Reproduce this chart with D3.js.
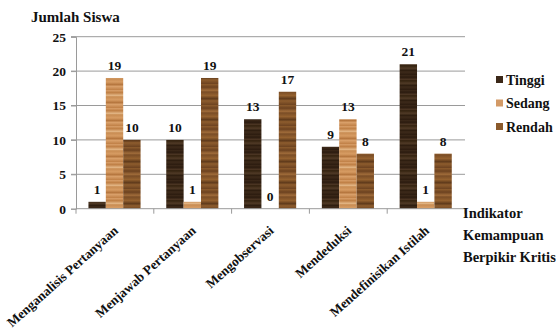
<!DOCTYPE html>
<html><head><meta charset="utf-8">
<script src="https://cdn.jsdelivr.net/npm/d3@7"></script>
<style>body{margin:0;background:#fff}svg{display:block}text{font-family:"Liberation Serif","Times New Roman",serif !important;font-weight:bold;fill:#111}</style>
</head><body>
<script>
const categories = ["Menganalisis Pertanyaan","Menjawab Pertanyaan","Mengobservasi","Mendeduksi","Mendefinisikan Istilah"];
const seriesNames = ["Tinggi","Sedang","Rendah"];
const tinggi = [1,10,13,9,21];
const sedang = [19,1,0,13,1];
const rendah = [10,19,17,8,8];
const yTicks = [0,5,10,15,20,25];
const yTitle = "Jumlah Siswa";
const xTitle = ["Indikator","Kemampuan","Berpikir Kritis"];
const values = {Tinggi: tinggi, Sedang: sedang, Rendah: rendah};

const W = 556, H = 333;
const L = 76, R = 465, T = 36.7, B = 208.7;
const FONT = "Liberation Serif";
const svg = d3.select("body").append("svg").attr("width", W).attr("height", H);

const woods = {
  Tinggi: ["#3d2a1a","#2b1b0f","#4a3422","#33220f","#503a26","#2e1e10"],
  Sedang: ["#d9a06a","#bf7f45","#e2b584","#c88c52","#d79c63","#b5763e"],
  Rendah: ["#8e5d2e","#6c4220","#a06c3a","#7a4d26","#94612f","#5f3a1b"]
};
const defs = svg.append("defs");
seriesNames.forEach((s, i) => {
  const g = defs.append("linearGradient").attr("id", "wood" + i)
    .attr("gradientUnits", "userSpaceOnUse").attr("x1", 0).attr("x2", 0)
    .attr("y1", 0).attr("y2", 15 + i * 3).attr("spreadMethod", "repeat");
  const cols = woods[s];
  const stops = [0,0.15,0.3,0.38,0.55,0.7,0.8,1];
  stops.forEach((o, k) => g.append("stop").attr("offset", o).attr("stop-color", cols[k % cols.length]));
});
const swatch = {Tinggi:"#3b2818", Sedang:"#d39a66", Rendah:"#8b5a2b"};

const y = d3.scaleLinear().domain([0, 25]).range([B, T]);
const x0 = d3.scaleBand().domain(categories).range([L, R]).padding(0);
const bw = x0.bandwidth();
const x1 = d3.scaleBand().domain(seriesNames).range([bw * 0.16, bw * 0.83]).padding(0);

// gridlines
svg.append("g").selectAll("line").data(yTicks.filter(t => t > 0)).join("line")
  .attr("x1", L - 5).attr("x2", R).attr("y1", d => y(d)).attr("y2", d => y(d))
  .attr("stroke", "#9a9a9a").attr("stroke-width", 1);

// y axis
const ya = svg.append("g").attr("transform", `translate(${L},0)`)
  .call(d3.axisLeft(y).tickValues(yTicks).tickSize(5).tickPadding(5));
ya.attr("font-family", FONT).attr("font-size", 13.5);
ya.select(".domain").attr("stroke", "#9a9a9a");
ya.selectAll(".tick line").attr("stroke", "#9a9a9a");
ya.selectAll("text").attr("font-weight", "bold").attr("fill", "#111");

// bars
const groups = svg.append("g").selectAll("g").data(categories).join("g")
  .attr("transform", d => `translate(${x0(d)},0)`);
groups.selectAll("rect").data((c, ci) => seriesNames.map((s, si) => ({s, si, v: values[s][ci]}))).join("rect")
  .attr("x", d => x1(d.s)).attr("width", x1.bandwidth())
  .attr("y", d => y(d.v)).attr("height", d => B - y(d.v))
  .attr("fill", d => `url(#wood${d.si})`);
groups.selectAll("text.val").data((c, ci) => seriesNames.map((s, si) => ({s, si, v: values[s][ci]}))).join("text")
  .attr("class", "val").attr("x", d => x1(d.s) + x1.bandwidth() / 2)
  .attr("y", d => y(d.v) - 8).attr("text-anchor", "middle").attr("font-size", 13.5)
  .text(d => d.v);

// x axis
svg.append("line").attr("x1", L).attr("x2", R).attr("y1", B).attr("y2", B).attr("stroke", "#9a9a9a");
svg.append("g").selectAll("line").data(d3.range(categories.length + 1)).join("line")
  .attr("x1", i => L + i * bw).attr("x2", i => L + i * bw).attr("y1", B).attr("y2", B + 5)
  .attr("stroke", "#9a9a9a");
svg.append("g").selectAll("text").data(categories).join("text")
  .attr("transform", d => `translate(${x0(d) + bw / 2 + 4},${B + 23}) rotate(-42)`)
  .attr("text-anchor", "end").attr("font-size", 13.3).text(d => d);

// titles
svg.append("text").attr("x", 31).attr("y", 22).attr("font-size", 15).text(yTitle);
svg.append("g").selectAll("text").data(xTitle).join("text")
  .attr("x", 463).attr("y", (d, i) => 218 + i * 22).attr("font-size", 14.5).text(d => d);

// legend
const lg = svg.append("g").selectAll("g").data(seriesNames).join("g")
  .attr("transform", (d, i) => `translate(496,${80 + i * 23.5})`);
lg.append("rect").attr("x", 0).attr("y", -4).attr("width", 7).attr("height", 7).attr("fill", d => swatch[d]);
lg.append("text").attr("x", 10).attr("y", 4.5).attr("font-size", 14).text(d => d);
</script>
</body></html>
